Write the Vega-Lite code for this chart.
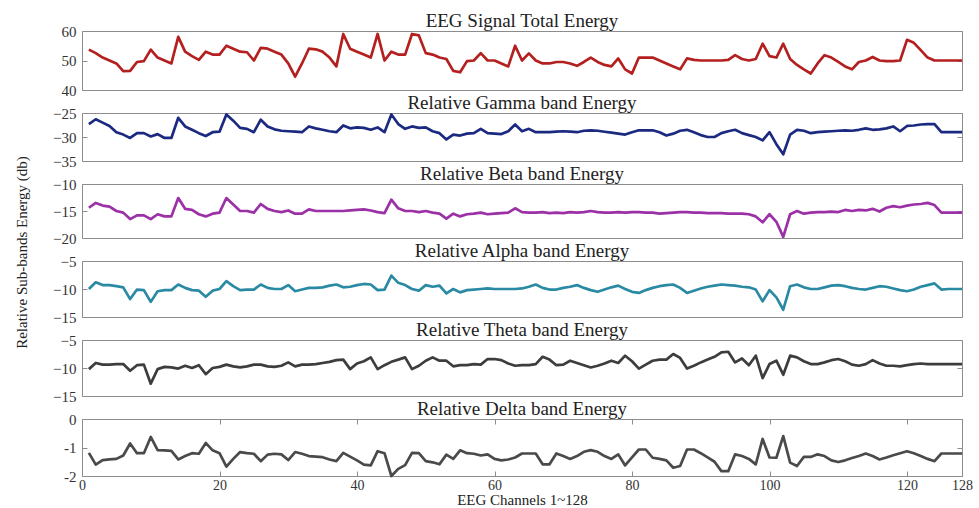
{
  "$schema": "https://vega.github.io/schema/vega-lite/v6.json",
  "padding": {"top": 11, "left": 13, "right": 6, "bottom": 0},
  "background": "white",
  "datasets": {
    "eeg": [
      {"ch":1,"total":53.7,"gamma":-27.3,"beta":-14.4,"alpha":-10,"theta":-10.2,"delta":-1.19},
      {"ch":2,"total":52.5,"gamma":-26.3,"beta":-13.5,"alpha":-8.8,"theta":-9.1,"delta":-1.6},
      {"ch":3,"total":51,"gamma":-27,"beta":-14,"alpha":-9.3,"theta":-9.4,"delta":-1.44},
      {"ch":4,"total":50,"gamma":-27.7,"beta":-14.2,"alpha":-9.3,"theta":-9.4,"delta":-1.42},
      {"ch":5,"total":49,"gamma":-29,"beta":-15,"alpha":-9.5,"theta":-9.3,"delta":-1.4},
      {"ch":6,"total":46.4,"gamma":-29.5,"beta":-15.3,"alpha":-9.7,"theta":-9.3,"delta":-1.28},
      {"ch":7,"total":46.5,"gamma":-30.2,"beta":-16.5,"alpha":-11.8,"theta":-10.5,"delta":-0.86},
      {"ch":8,"total":49.5,"gamma":-29.2,"beta":-15.8,"alpha":-10.1,"theta":-9.5,"delta":-1.2},
      {"ch":9,"total":49.8,"gamma":-29.2,"beta":-15.8,"alpha":-10.2,"theta":-9.4,"delta":-1.2},
      {"ch":10,"total":53.7,"gamma":-29.9,"beta":-16.5,"alpha":-12.3,"theta":-12.8,"delta":-0.63},
      {"ch":11,"total":51,"gamma":-29.4,"beta":-15.6,"alpha":-10.4,"theta":-10.2,"delta":-1.09},
      {"ch":12,"total":50,"gamma":-30.2,"beta":-16,"alpha":-10.2,"theta":-9.8,"delta":-1.1},
      {"ch":13,"total":49,"gamma":-30.2,"beta":-16,"alpha":-10.2,"theta":-9.9,"delta":-1.12},
      {"ch":14,"total":58,"gamma":-26,"beta":-12.6,"alpha":-9.2,"theta":-10.1,"delta":-1.42},
      {"ch":15,"total":53,"gamma":-27.8,"beta":-14.6,"alpha":-9.8,"theta":-9.6,"delta":-1.3},
      {"ch":16,"total":51.5,"gamma":-28.5,"beta":-14.8,"alpha":-10.2,"theta":-10,"delta":-1.2},
      {"ch":17,"total":50.2,"gamma":-29.2,"beta":-15.6,"alpha":-10.3,"theta":-9.5,"delta":-1.22},
      {"ch":18,"total":53,"gamma":-29.8,"beta":-16,"alpha":-11.4,"theta":-11.1,"delta":-0.84},
      {"ch":19,"total":52,"gamma":-29,"beta":-15.5,"alpha":-10.3,"theta":-10,"delta":-1.1},
      {"ch":20,"total":52,"gamma":-28.9,"beta":-15.3,"alpha":-10,"theta":-9.8,"delta":-1.2},
      {"ch":21,"total":55,"gamma":-25.3,"beta":-12.6,"alpha":-8.6,"theta":-9.4,"delta":-1.67},
      {"ch":22,"total":54,"gamma":-26.6,"beta":-13.8,"alpha":-9.5,"theta":-9.7,"delta":-1.4},
      {"ch":23,"total":53,"gamma":-28.1,"beta":-15,"alpha":-10.2,"theta":-9.9,"delta":-1.16},
      {"ch":24,"total":52.8,"gamma":-28.3,"beta":-15,"alpha":-10.1,"theta":-9.7,"delta":-1.2},
      {"ch":25,"total":50,"gamma":-29,"beta":-15.3,"alpha":-10.1,"theta":-9.4,"delta":-1.22},
      {"ch":26,"total":54.3,"gamma":-26.4,"beta":-13.7,"alpha":-9.2,"theta":-9.4,"delta":-1.48},
      {"ch":27,"total":54,"gamma":-27.8,"beta":-14.6,"alpha":-9.8,"theta":-9.7,"delta":-1.25},
      {"ch":28,"total":53,"gamma":-28.4,"beta":-15,"alpha":-10,"theta":-9.8,"delta":-1.22},
      {"ch":29,"total":52,"gamma":-28.7,"beta":-15.2,"alpha":-10,"theta":-9.6,"delta":-1.24},
      {"ch":30,"total":49,"gamma":-28.8,"beta":-14.9,"alpha":-9.3,"theta":-9,"delta":-1.44},
      {"ch":31,"total":44.5,"gamma":-28.9,"beta":-15.5,"alpha":-10.4,"theta":-9.7,"delta":-1.16},
      {"ch":32,"total":49,"gamma":-29,"beta":-15.5,"alpha":-10.1,"theta":-9.4,"delta":-1.22},
      {"ch":33,"total":54,"gamma":-27.8,"beta":-14.7,"alpha":-9.8,"theta":-9.4,"delta":-1.3},
      {"ch":34,"total":53.8,"gamma":-28.2,"beta":-15,"alpha":-9.8,"theta":-9.3,"delta":-1.32},
      {"ch":35,"total":53,"gamma":-28.5,"beta":-15,"alpha":-9.7,"theta":-9.1,"delta":-1.34},
      {"ch":36,"total":51,"gamma":-28.8,"beta":-15,"alpha":-9.4,"theta":-8.9,"delta":-1.42},
      {"ch":37,"total":48,"gamma":-29,"beta":-15,"alpha":-9.2,"theta":-8.6,"delta":-1.48},
      {"ch":38,"total":59,"gamma":-27.6,"beta":-15,"alpha":-9.7,"theta":-8.5,"delta":-1.19},
      {"ch":39,"total":54,"gamma":-28.2,"beta":-14.9,"alpha":-9.6,"theta":-10.2,"delta":-1.32},
      {"ch":40,"total":53,"gamma":-28,"beta":-14.8,"alpha":-9.3,"theta":-9.2,"delta":-1.45},
      {"ch":41,"total":52,"gamma":-28.1,"beta":-14.7,"alpha":-9.1,"theta":-8.8,"delta":-1.6},
      {"ch":42,"total":51,"gamma":-28.5,"beta":-14.9,"alpha":-9.2,"theta":-8.1,"delta":-1.63},
      {"ch":43,"total":59,"gamma":-28,"beta":-15.2,"alpha":-10.2,"theta":-10.2,"delta":-1.13},
      {"ch":44,"total":50,"gamma":-29,"beta":-15.4,"alpha":-10.1,"theta":-9.5,"delta":-1.2},
      {"ch":45,"total":53,"gamma":-25.3,"beta":-12.9,"alpha":-7.6,"theta":-8.9,"delta":-2},
      {"ch":46,"total":52,"gamma":-27.3,"beta":-14.5,"alpha":-8.9,"theta":-8.5,"delta":-1.75},
      {"ch":47,"total":52,"gamma":-28.3,"beta":-15,"alpha":-9.3,"theta":-8.1,"delta":-1.62},
      {"ch":48,"total":59,"gamma":-27.8,"beta":-15,"alpha":-10,"theta":-10.2,"delta":-1.19},
      {"ch":49,"total":58.5,"gamma":-28.1,"beta":-15.2,"alpha":-10.3,"theta":-9.6,"delta":-1.2},
      {"ch":50,"total":52.5,"gamma":-28,"beta":-15,"alpha":-9.3,"theta":-8.7,"delta":-1.48},
      {"ch":51,"total":52,"gamma":-28.8,"beta":-15.3,"alpha":-9.6,"theta":-8.1,"delta":-1.52},
      {"ch":52,"total":51,"gamma":-29.2,"beta":-15.5,"alpha":-9.4,"theta":-8.7,"delta":-1.59},
      {"ch":53,"total":50.5,"gamma":-30.5,"beta":-16.4,"alpha":-10.8,"theta":-8.7,"delta":-1.25},
      {"ch":54,"total":46.5,"gamma":-29.5,"beta":-15.5,"alpha":-10,"theta":-9.7,"delta":-1.4},
      {"ch":55,"total":46,"gamma":-29.7,"beta":-16,"alpha":-10.6,"theta":-9.5,"delta":-1.1},
      {"ch":56,"total":49.8,"gamma":-29.3,"beta":-15.6,"alpha":-10.2,"theta":-9.5,"delta":-1.2},
      {"ch":57,"total":50,"gamma":-29.2,"beta":-15.5,"alpha":-10.1,"theta":-9.3,"delta":-1.22},
      {"ch":58,"total":52.5,"gamma":-28.3,"beta":-15.3,"alpha":-10,"theta":-9.4,"delta":-1.28},
      {"ch":59,"total":50,"gamma":-29.2,"beta":-15.6,"alpha":-9.9,"theta":-8.4,"delta":-1.24},
      {"ch":60,"total":50,"gamma":-29.3,"beta":-15.5,"alpha":-10,"theta":-8.4,"delta":-1.4},
      {"ch":61,"total":49,"gamma":-29.4,"beta":-15.4,"alpha":-10,"theta":-8.6,"delta":-1.45},
      {"ch":62,"total":48,"gamma":-28.8,"beta":-15.3,"alpha":-10,"theta":-9.2,"delta":-1.42},
      {"ch":63,"total":55,"gamma":-27.4,"beta":-14.5,"alpha":-10,"theta":-9.6,"delta":-1.35},
      {"ch":64,"total":50,"gamma":-28.8,"beta":-15.2,"alpha":-9.9,"theta":-9.5,"delta":-1.21},
      {"ch":65,"total":52.4,"gamma":-28.3,"beta":-15.3,"alpha":-9.6,"theta":-9.5,"delta":-1.21},
      {"ch":66,"total":50,"gamma":-29,"beta":-15.3,"alpha":-9.2,"theta":-9.3,"delta":-1.21},
      {"ch":67,"total":49,"gamma":-29,"beta":-15.2,"alpha":-9.8,"theta":-8,"delta":-1.59},
      {"ch":68,"total":49,"gamma":-29,"beta":-15.4,"alpha":-10.1,"theta":-8.5,"delta":-1.59},
      {"ch":69,"total":49.5,"gamma":-28.9,"beta":-15.3,"alpha":-10.1,"theta":-9.5,"delta":-1.21},
      {"ch":70,"total":49.5,"gamma":-28.8,"beta":-15.4,"alpha":-9.8,"theta":-9.4,"delta":-1.3},
      {"ch":71,"total":49,"gamma":-28.9,"beta":-15.2,"alpha":-9.6,"theta":-8.7,"delta":-1.4},
      {"ch":72,"total":48.2,"gamma":-29,"beta":-15.3,"alpha":-9.3,"theta":-9.1,"delta":-1.3},
      {"ch":73,"total":49.5,"gamma":-28.7,"beta":-15.2,"alpha":-9.8,"theta":-9.5,"delta":-1.15},
      {"ch":74,"total":51,"gamma":-28.6,"beta":-15,"alpha":-10.2,"theta":-9.9,"delta":-1.09},
      {"ch":75,"total":49.5,"gamma":-28.7,"beta":-15.2,"alpha":-10.5,"theta":-9.6,"delta":-1.15},
      {"ch":76,"total":48.5,"gamma":-28.9,"beta":-15.3,"alpha":-10.1,"theta":-9.2,"delta":-1.3},
      {"ch":77,"total":48,"gamma":-29.1,"beta":-15.3,"alpha":-9.7,"theta":-8.7,"delta":-1.4},
      {"ch":78,"total":50.7,"gamma":-29.3,"beta":-15.2,"alpha":-9.4,"theta":-9.1,"delta":-1.24},
      {"ch":79,"total":47,"gamma":-29.5,"beta":-15.3,"alpha":-10,"theta":-7.8,"delta":-1.63},
      {"ch":80,"total":45.6,"gamma":-29,"beta":-15.2,"alpha":-10.5,"theta":-8.8,"delta":-1.35},
      {"ch":81,"total":51,"gamma":-28.6,"beta":-15.2,"alpha":-10.7,"theta":-10.1,"delta":-1.07},
      {"ch":82,"total":51,"gamma":-28.6,"beta":-15.3,"alpha":-10.2,"theta":-9.4,"delta":-1.07},
      {"ch":83,"total":51,"gamma":-28.6,"beta":-15.3,"alpha":-9.8,"theta":-8.7,"delta":-1.36},
      {"ch":84,"total":50,"gamma":-29,"beta":-15.5,"alpha":-9.5,"theta":-8.5,"delta":-1.4},
      {"ch":85,"total":49,"gamma":-29.7,"beta":-15.4,"alpha":-9.3,"theta":-8.5,"delta":-1.45},
      {"ch":86,"total":48,"gamma":-29.3,"beta":-15.3,"alpha":-9.2,"theta":-7.5,"delta":-1.71},
      {"ch":87,"total":47,"gamma":-28.7,"beta":-15.2,"alpha":-9.8,"theta":-8.2,"delta":-1.65},
      {"ch":88,"total":50.7,"gamma":-28.5,"beta":-15.2,"alpha":-10.7,"theta":-10.1,"delta":-1.07},
      {"ch":89,"total":50.2,"gamma":-29,"beta":-15.3,"alpha":-10.3,"theta":-9.6,"delta":-1.07},
      {"ch":90,"total":50,"gamma":-29.6,"beta":-15.3,"alpha":-9.9,"theta":-9,"delta":-1.2},
      {"ch":91,"total":50,"gamma":-30,"beta":-15.4,"alpha":-9.6,"theta":-8.5,"delta":-1.35},
      {"ch":92,"total":50,"gamma":-30,"beta":-15.4,"alpha":-9.4,"theta":-8,"delta":-1.5},
      {"ch":93,"total":50,"gamma":-29.2,"beta":-15.4,"alpha":-9.2,"theta":-7.2,"delta":-1.83},
      {"ch":94,"total":50.2,"gamma":-28.8,"beta":-15.5,"alpha":-9.3,"theta":-7.1,"delta":-1.83},
      {"ch":95,"total":51.8,"gamma":-28.5,"beta":-15.5,"alpha":-9.4,"theta":-9,"delta":-1.24},
      {"ch":96,"total":50.5,"gamma":-29.2,"beta":-15.5,"alpha":-9.6,"theta":-8.3,"delta":-1.3},
      {"ch":97,"total":50,"gamma":-29.6,"beta":-15.6,"alpha":-9.7,"theta":-9.5,"delta":-1.4},
      {"ch":98,"total":50.5,"gamma":-30,"beta":-16,"alpha":-10.1,"theta":-7.8,"delta":-1.59},
      {"ch":99,"total":55.7,"gamma":-30.7,"beta":-17.1,"alpha":-12.2,"theta":-11.8,"delta":-0.7},
      {"ch":100,"total":51.5,"gamma":-29,"beta":-15.6,"alpha":-10.2,"theta":-9.3,"delta":-1.35},
      {"ch":101,"total":51,"gamma":-31.5,"beta":-17,"alpha":-11.5,"theta":-8.7,"delta":-1.36},
      {"ch":102,"total":55.7,"gamma":-33.6,"beta":-19.8,"alpha":-13.7,"theta":-11.2,"delta":-0.6},
      {"ch":103,"total":50.5,"gamma":-29.5,"beta":-15.6,"alpha":-9.5,"theta":-7.8,"delta":-1.53},
      {"ch":104,"total":48.5,"gamma":-28.5,"beta":-15,"alpha":-9.2,"theta":-8.1,"delta":-1.65},
      {"ch":105,"total":47,"gamma":-28.7,"beta":-15.5,"alpha":-9.7,"theta":-8.8,"delta":-1.33},
      {"ch":106,"total":45.6,"gamma":-29.2,"beta":-15.3,"alpha":-10,"theta":-9.3,"delta":-1.33},
      {"ch":107,"total":49,"gamma":-29,"beta":-15.2,"alpha":-10,"theta":-9.3,"delta":-1.24},
      {"ch":108,"total":51.8,"gamma":-28.9,"beta":-15.2,"alpha":-9.7,"theta":-9,"delta":-1.3},
      {"ch":109,"total":51,"gamma":-28.8,"beta":-15.1,"alpha":-9.4,"theta":-8.6,"delta":-1.45},
      {"ch":110,"total":49.5,"gamma":-28.7,"beta":-15.2,"alpha":-9.3,"theta":-8.4,"delta":-1.51},
      {"ch":111,"total":48,"gamma":-28.6,"beta":-14.8,"alpha":-9.5,"theta":-8.8,"delta":-1.45},
      {"ch":112,"total":47,"gamma":-28.7,"beta":-15,"alpha":-9.8,"theta":-9.4,"delta":-1.37},
      {"ch":113,"total":49.5,"gamma":-28.5,"beta":-14.8,"alpha":-10,"theta":-9.6,"delta":-1.3},
      {"ch":114,"total":50,"gamma":-28.2,"beta":-14.9,"alpha":-10.1,"theta":-9.3,"delta":-1.21},
      {"ch":115,"total":51.2,"gamma":-28.5,"beta":-14.6,"alpha":-9.8,"theta":-8.6,"delta":-1.3},
      {"ch":116,"total":50,"gamma":-28.4,"beta":-15.1,"alpha":-9.5,"theta":-9.2,"delta":-1.42},
      {"ch":117,"total":49.8,"gamma":-28.2,"beta":-14.4,"alpha":-9.6,"theta":-9.6,"delta":-1.35},
      {"ch":118,"total":49.8,"gamma":-27.8,"beta":-14.1,"alpha":-9.9,"theta":-9.6,"delta":-1.27},
      {"ch":119,"total":50,"gamma":-28.8,"beta":-14.3,"alpha":-10.2,"theta":-9.7,"delta":-1.2},
      {"ch":120,"total":57,"gamma":-27.7,"beta":-14,"alpha":-10.4,"theta":-9.5,"delta":-1.13},
      {"ch":121,"total":56,"gamma":-27.6,"beta":-13.8,"alpha":-10.1,"theta":-9.3,"delta":-1.2},
      {"ch":122,"total":53.5,"gamma":-27.4,"beta":-13.7,"alpha":-9.6,"theta":-9.2,"delta":-1.3},
      {"ch":123,"total":51,"gamma":-27.3,"beta":-13.5,"alpha":-9.3,"theta":-9.3,"delta":-1.4},
      {"ch":124,"total":50,"gamma":-27.3,"beta":-13.9,"alpha":-9,"theta":-9.3,"delta":-1.48},
      {"ch":125,"total":50,"gamma":-29,"beta":-15.3,"alpha":-10.1,"theta":-9.3,"delta":-1.21},
      {"ch":126,"total":50,"gamma":-29,"beta":-15.3,"alpha":-10,"theta":-9.3,"delta":-1.21},
      {"ch":127,"total":50,"gamma":-29,"beta":-15.3,"alpha":-10,"theta":-9.3,"delta":-1.21},
      {"ch":128,"total":50,"gamma":-29,"beta":-15.3,"alpha":-10,"theta":-9.3,"delta":-1.21}
    ]
  },
  "config": {
    "font": "Liberation Serif",
    "view": {"stroke": "#8c8c8c", "strokeWidth": 1},
    "axis": {
      "labelFont": "Liberation Serif", "labelFontSize": 15, "labelColor": "#333333",
      "labelFlush": false, "labelOverlap": false,
      "tickColor": "#8c8c8c", "tickSize": -5, "domain": false, "grid": false,
      "titleFont": "Liberation Serif", "titleFontWeight": "normal", "titleColor": "#222222"
    },
    "title": {"font": "Liberation Serif", "fontSize": 19, "fontWeight": "normal", "color": "#222222", "offset": -7}
  },
  "bounds": "flush",
  "spacing": 23,
  "vconcat": [
    {
      "width": 880, "height": 59,
      "title": "EEG Signal Total Energy",
      "data": {"name": "eeg"},
      "layer": [
        {"mark": {"type": "line", "color": "#b3201f", "strokeWidth": 2.7, "strokeJoin": "round"},
         "encoding": {
           "x": {"field": "ch", "type": "quantitative", "scale": {"domain": [0, 128], "nice": false}, "axis": null},
           "y": {"field": "total", "type": "quantitative", "scale": {"domain": [40, 60], "nice": false, "zero": false},
                 "axis": {"orient": "left", "values": [40, 50, 60], "labelPadding": 11,
                          "title": "Relative Sub-bands Energy (db)", "titleFontSize": 15,
                          "titleX": -53, "titleY": 221, "titleAngle": -90, "titleAlign": "center", "titleBaseline": "bottom"}}}},
        {"mark": {"type": "line", "opacity": 0},
         "encoding": {
           "x": {"field": "ch", "type": "quantitative", "axis": null},
           "y": {"field": "total", "type": "quantitative", "axis": {"orient": "right", "values": [40, 50, 60], "labels": false, "title": null}}}}
      ],
      "resolve": {"axis": {"y": "independent"}}
    },
    {
      "width": 880, "height": 48,
      "title": "Relative Gamma band Energy",
      "data": {"name": "eeg"},
      "layer": [
        {"mark": {"type": "line", "color": "#1b2a80", "strokeWidth": 2.7, "strokeJoin": "round"},
         "encoding": {
           "x": {"field": "ch", "type": "quantitative", "scale": {"domain": [0, 128], "nice": false}, "axis": null},
           "y": {"field": "gamma", "type": "quantitative", "scale": {"domain": [-35, -25], "nice": false, "zero": false},
                 "axis": {"orient": "left", "values": [-35, -30, -25], "title": null, "labelPadding": 11}}}},
        {"mark": {"type": "line", "opacity": 0},
         "encoding": {
           "x": {"field": "ch", "type": "quantitative", "axis": null},
           "y": {"field": "gamma", "type": "quantitative", "axis": {"orient": "right", "values": [-35, -30, -25], "labels": false, "title": null}}}}
      ],
      "resolve": {"axis": {"y": "independent"}}
    },
    {
      "width": 880, "height": 54,
      "title": "Relative Beta band Energy",
      "data": {"name": "eeg"},
      "layer": [
        {"mark": {"type": "line", "color": "#9c30a6", "strokeWidth": 2.7, "strokeJoin": "round"},
         "encoding": {
           "x": {"field": "ch", "type": "quantitative", "scale": {"domain": [0, 128], "nice": false}, "axis": null},
           "y": {"field": "beta", "type": "quantitative", "scale": {"domain": [-20, -10], "nice": false, "zero": false},
                 "axis": {"orient": "left", "values": [-20, -15, -10], "title": null, "labelPadding": 11}}}},
        {"mark": {"type": "line", "opacity": 0},
         "encoding": {
           "x": {"field": "ch", "type": "quantitative", "axis": null},
           "y": {"field": "beta", "type": "quantitative", "axis": {"orient": "right", "values": [-20, -15, -10], "labels": false, "title": null}}}}
      ],
      "resolve": {"axis": {"y": "independent"}}
    },
    {
      "width": 880, "height": 56,
      "title": "Relative Alpha band Energy",
      "data": {"name": "eeg"},
      "layer": [
        {"mark": {"type": "line", "color": "#2a8aa4", "strokeWidth": 2.7, "strokeJoin": "round"},
         "encoding": {
           "x": {"field": "ch", "type": "quantitative", "scale": {"domain": [0, 128], "nice": false}, "axis": null},
           "y": {"field": "alpha", "type": "quantitative", "scale": {"domain": [-15, -5], "nice": false, "zero": false},
                 "axis": {"orient": "left", "values": [-15, -10, -5], "title": null, "labelPadding": 11}}}},
        {"mark": {"type": "line", "opacity": 0},
         "encoding": {
           "x": {"field": "ch", "type": "quantitative", "axis": null},
           "y": {"field": "alpha", "type": "quantitative", "axis": {"orient": "right", "values": [-15, -10, -5], "labels": false, "title": null}}}}
      ],
      "resolve": {"axis": {"y": "independent"}}
    },
    {
      "width": 880, "height": 56,
      "title": "Relative Theta band Energy",
      "data": {"name": "eeg"},
      "layer": [
        {"mark": {"type": "line", "color": "#3d3d3d", "strokeWidth": 2.7, "strokeJoin": "round"},
         "encoding": {
           "x": {"field": "ch", "type": "quantitative", "scale": {"domain": [0, 128], "nice": false}, "axis": null},
           "y": {"field": "theta", "type": "quantitative", "scale": {"domain": [-15, -5], "nice": false, "zero": false},
                 "axis": {"orient": "left", "values": [-15, -10, -5], "title": null, "labelPadding": 11}}}},
        {"mark": {"type": "line", "opacity": 0},
         "encoding": {
           "x": {"field": "ch", "type": "quantitative", "axis": null},
           "y": {"field": "theta", "type": "quantitative", "axis": {"orient": "right", "values": [-15, -10, -5], "labels": false, "title": null}}}}
      ],
      "resolve": {"axis": {"y": "independent"}}
    },
    {
      "width": 880, "height": 57,
      "title": "Relative Delta band Energy",
      "data": {"name": "eeg"},
      "layer": [
        {"mark": {"type": "line", "color": "#4a4a4a", "strokeWidth": 2.7, "strokeJoin": "round"},
         "encoding": {
           "x": {"field": "ch", "type": "quantitative", "scale": {"domain": [0, 128], "nice": false},
                 "axis": {"orient": "bottom", "values": [0, 20, 40, 60, 80, 100, 120, 128], "labelPadding": 7, "labelFontSize": 14,
                          "labelExpr": "'' + datum.value",
                          "title": "EEG Channels 1~128", "titleFontSize": 15, "titlePadding": 0}},
           "y": {"field": "delta", "type": "quantitative", "scale": {"domain": [-2, 0], "nice": false, "zero": false},
                 "axis": {"orient": "left", "values": [-2, -1, 0], "labelExpr": "'' + datum.value", "title": null, "labelPadding": 11}}}},
        {"mark": {"type": "line", "opacity": 0},
         "encoding": {
           "x": {"field": "ch", "type": "quantitative", "axis": {"orient": "top", "values": [0, 20, 40, 60, 80, 100, 120, 128], "labels": false, "title": null}},
           "y": {"field": "delta", "type": "quantitative", "axis": {"orient": "right", "values": [-2, -1, 0], "labels": false, "title": null}}}}
      ],
      "resolve": {"axis": {"x": "independent", "y": "independent"}}
    }
  ]
}
